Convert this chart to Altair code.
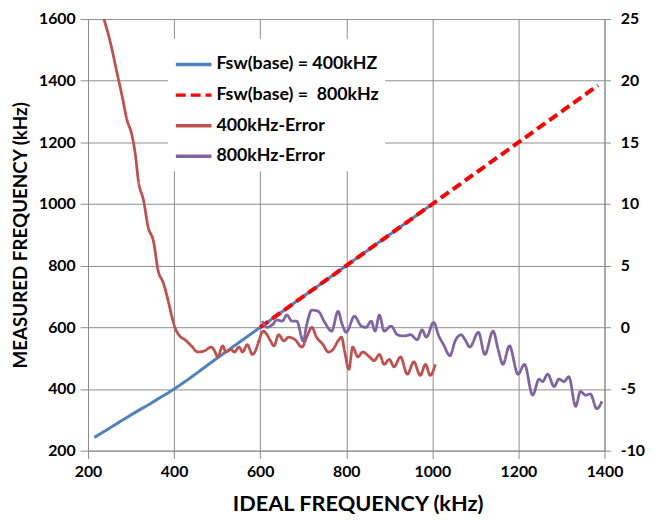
import altair as alt
import pandas as pd

# ---- data ----
names = ["Fsw(base) = 400kHZ", "Fsw(base) =\u00a0 800kHz", "400kHz-Error", "800kHz-Error"]
colors = ["#4F81BD", "#FF0000", "#C0504D", "#8064A2"]
dashes = [[1, 0], [10, 5], [1, 0], [1, 0]]

blue_x = [215, 250, 300, 350, 400, 500, 600, 700, 800, 900, 1000]
blue_y = [243, 273, 316, 357, 400, 500, 600, 700, 800, 900, 1000]

red_x = [600, 700, 800, 900, 1000, 1100, 1200, 1300, 1385]
red_y = [600, 700, 800, 900, 1000, 1100, 1200, 1300, 1385]

err400_x = [237, 252, 267, 279, 290, 302, 310, 317, 329, 340, 352, 363, 375, 386, 394, 402,
            413, 425, 440, 455, 471, 486, 494, 501, 513, 520, 532, 540, 551, 559, 570, 582,
            589, 597, 607, 616, 624, 632, 643, 655, 666, 681, 697, 708, 720, 731, 746, 758,
            769, 781, 789, 796, 806, 815, 827, 838, 854, 865, 877, 888, 900, 911, 926, 942,
            957, 972, 984, 995, 1007]
err400_y = [25.0, 23.1, 20.7, 18.8, 16.9, 15.6, 14.0, 11.9, 10.3, 8.1, 7.0, 4.6, 3.6, 2.2, 1.0, 0.0,
            -0.7, -1.0, -1.5, -2.0, -1.9, -1.6, -1.9, -2.4, -1.5, -2.0, -1.8, -2.0, -1.6, -2.0, -1.4, -2.2,
            -1.9, -1.1, -0.3, -0.6, -1.1, -1.5, -0.6, -1.1, -0.8, -1.0, -1.6, -0.8, 0.0, -0.8, -1.4, -2.0,
            -1.8, -1.1, -0.8, -1.9, -3.4, -1.6, -2.4, -2.0, -2.4, -2.7, -2.2, -3.0, -2.6, -3.2, -2.4, -3.8,
            -2.8, -3.9, -3.0, -3.9, -3.0]

err800_x = [605, 616, 628, 639, 651, 662, 674, 685, 700, 708, 720, 735, 750, 766, 781, 790,
            800, 819, 835, 846, 858, 867, 877, 888, 904, 919, 934, 949, 965, 976, 986, 1003,
            1015, 1026, 1041, 1053, 1067, 1076, 1087, 1107, 1122, 1141, 1153, 1164, 1179, 1199,
            1214, 1233, 1248, 1256, 1268, 1283, 1294, 1306, 1317, 1333, 1344, 1356, 1367, 1382, 1394]
err800_y = [0.5, 0.0, 0.2, 0.6, 0.5, 1.0, 0.5, 0.5, -1.1, 0.2, 1.4, 1.3, 0.4, -0.3, 1.3, 0.3,
            -0.4, 0.9, 0.1, 0.0, 0.5, -0.3, 1.0, -0.3, 0.1, -0.6, -0.7, -0.6, -1.0, -0.2, -0.8, 0.4,
            -0.7, -1.4, -2.3, -1.1, -0.6, -1.0, -1.6, -0.4, -2.2, -0.3, -1.8, -3.0, -1.5, -3.8,
            -3.0, -5.5, -4.2, -4.4, -3.8, -4.8, -4.2, -4.4, -4.0, -6.4, -5.2, -5.5, -5.4, -6.6, -6.0]

x_ticks = [200, 400, 600, 800, 1000, 1200, 1400]
y_ticks = [200, 400, 600, 800, 1000, 1200, 1400, 1600]
err_ticks = [-10, -5, 0, 5, 10, 15, 20, 25]

# ---- tables ----
df_blue = pd.DataFrame({"x": blue_x, "y": blue_y, "series": names[0]})
df_red = pd.DataFrame({"x": red_x, "y": red_y, "series": names[1]})
df_e4 = pd.DataFrame({"x": err400_x, "e": err400_y, "series": names[2]})
df_e8 = pd.DataFrame({"x": err800_x, "e": err800_y, "series": names[3]})

FONT = "Lato"
GRID = "#8c8c8c"

x_enc = alt.X("x:Q", scale=alt.Scale(domain=[200, 1400], nice=False),
              axis=alt.Axis(values=x_ticks, format="d", title="IDEAL FREQUENCY (kHz)",
                            titlePadding=15, titleFontSize=22, labelFlush=False,
                            titleX=273, titleAlign="center"))
y_left = alt.Y("y:Q", scale=alt.Scale(domain=[200, 1600], nice=False),
               axis=alt.Axis(values=y_ticks, format="d", title="MEASURED FREQUENCY (kHz)",
                             titlePadding=8, titleFontSize=19))
y_right = alt.Y("e:Q", scale=alt.Scale(domain=[-10, 25], nice=False),
                axis=alt.Axis(values=err_ticks, orient="right", grid=False, title=None,
                              labelExpr="'' + datum.value", labelPadding=10, tickSize=6))
color_enc = alt.Color("series:N", scale=alt.Scale(domain=names, range=colors),
                      legend=alt.Legend(title=None))
dash_enc = alt.StrokeDash("series:N", scale=alt.Scale(domain=names, range=dashes),
                          legend=alt.Legend(title=None))

blue = alt.Chart(df_blue).mark_line(strokeWidth=3, interpolate="monotone").encode(
    x=x_enc, y=y_left, color=color_enc, strokeDash=dash_enc)
red = alt.Chart(df_red).mark_line(strokeWidth=4).encode(
    x=x_enc, y=y_left, color=color_enc, strokeDash=dash_enc)
e4 = alt.Chart(df_e4).mark_line(strokeWidth=2.8, interpolate="monotone").encode(
    x=x_enc, y=y_right, color=color_enc, strokeDash=dash_enc)
e8 = alt.Chart(df_e8).mark_line(strokeWidth=2.8, interpolate="monotone").encode(
    x=x_enc, y=y_right, color=color_enc, strokeDash=dash_enc)

left = alt.layer(blue, red)
right = alt.layer(e4, e8)

chart = alt.layer(left, right).resolve_scale(y="independent").properties(
    width=523, height=437,
    autosize=alt.AutoSizeParams(type="none"),
    padding={"left": 81, "top": 8, "right": 42, "bottom": 66},
).configure_view(stroke=None).configure_axis(
    labelFont=FONT, labelFontWeight="bold", labelFontSize=16, labelColor="black",
    titleFont=FONT, titleFontWeight="bold", titleFontSize=20, titleColor="black",
    gridColor=GRID, gridOpacity=1, gridWidth=1,
    domainColor=GRID, tickColor=GRID, tickSize=8, labelPadding=5,
).configure_legend(
    orient="none", legendX=81, legendY=20, fillColor="white", padding=6,
    labelFont=FONT, labelFontWeight="bold", labelFontSize=18, labelColor="black",
    labelLimit=400,
    symbolType="stroke", symbolSize=1300, symbolStrokeWidth=3.5, rowPadding=2,
    labelOffset=3,
)

chart.save("out.html", embed_options={"renderer": "svg", "actions": False})
